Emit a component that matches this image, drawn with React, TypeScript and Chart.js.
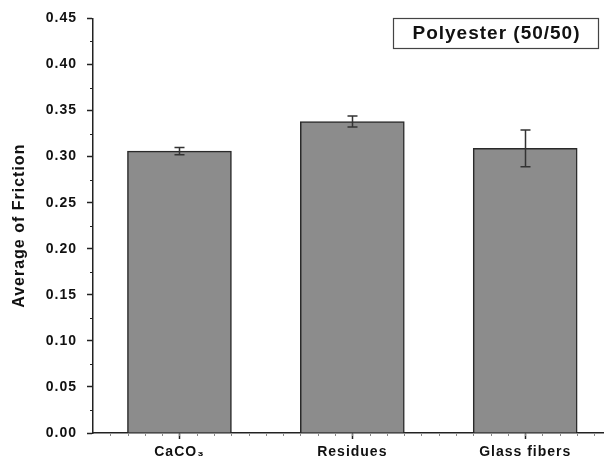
import React, { useEffect, useRef } from "react";
import { Chart, registerables } from "chart.js";

Chart.register(...registerables);

const categories = ["CaCO₃", "Residues", "Glass fibers"];
const positions = [1, 2, 3];
const means = [0.306, 0.338, 0.309];
const errors = [0.004, 0.006, 0.02];
const legendText = "Polyester (50/50)";
const yTitle = "Average of Friction";

const FONT = "'Liberation Sans', Arial, sans-serif";

const spacingPlugin = {
  id: "spacing",
  beforeLayout(chart: any) {
    chart.ctx.letterSpacing = "1px";
  },
  beforeDraw(chart: any) {
    chart.ctx.letterSpacing = "1px";
  },
};

const extrasPlugin = {
  id: "extras",
  afterDatasetsDraw(chart: any) {
    const ctx = chart.ctx;
    const xs = chart.scales.x;
    const ys = chart.scales.y;
    ctx.save();
    // error bars
    ctx.strokeStyle = "#333";
    ctx.lineWidth = 1.5;
    positions.forEach((p, i) => {
      const x = Math.round(xs.getPixelForValue(p)) + 0.5;
      const yt = ys.getPixelForValue(means[i] + errors[i]);
      const yb = ys.getPixelForValue(means[i] - errors[i]);
      ctx.beginPath();
      ctx.moveTo(x, yt);
      ctx.lineTo(x, yb);
      ctx.moveTo(x - 5, yt);
      ctx.lineTo(x + 5, yt);
      ctx.moveTo(x - 5, yb);
      ctx.lineTo(x + 5, yb);
      ctx.stroke();
    });
    // minor ticks on y
    ctx.strokeStyle = "#222";
    ctx.lineWidth = 1;
    const left = chart.chartArea.left;
    for (let v = 0.025; v < 0.45; v += 0.05) {
      const y = Math.round(ys.getPixelForValue(v)) + 0.5;
      ctx.beginPath();
      ctx.moveTo(left, y);
      ctx.lineTo(left - 3, y);
      ctx.stroke();
    }
    // faint minor ticks on x
    ctx.strokeStyle = "#888";
    const bottom = chart.chartArea.bottom;
    for (let v = 0.6; v <= 3.45; v += 0.1) {
      const x = Math.round(xs.getPixelForValue(v)) + 0.5;
      ctx.beginPath();
      ctx.moveTo(x, bottom + 1);
      ctx.lineTo(x, bottom + 3);
      ctx.stroke();
    }
    // legend box
    const bx = 393, by = 18, bw = 205, bh = 30;
    ctx.strokeStyle = "#444";
    ctx.lineWidth = 1.2;
    ctx.strokeRect(bx + 0.5, by + 0.5, bw, bh);
    ctx.fillStyle = "#111";
    ctx.letterSpacing = "1px";
    ctx.font = `bold 19px ${FONT}`;
    ctx.textAlign = "center";
    ctx.textBaseline = "middle";
    ctx.fillText(legendText, bx + bw / 2 + 1, by + bh / 2 + 1);
    ctx.restore();
  },
};

export default function App() {
  const ref = useRef<HTMLCanvasElement | null>(null);
  useEffect(() => {
    if (!ref.current) return;
    const chart = new Chart(ref.current, {
      type: "bar",
      data: {
        datasets: [
          {
            data: positions.map((x, i) => ({ x, y: means[i] })),
            backgroundColor: "#8c8c8c",
            borderColor: "#2a2a2a",
            borderWidth: 1.5,
            barThickness: 104,
          } as any,
        ],
      },
      options: {
        animation: false,
        responsive: false,
        layout: { padding: { top: 14, right: 4, left: 0, bottom: 0 } },
        plugins: { legend: { display: false }, tooltip: { enabled: false } },
        scales: {
          x: {
            type: "linear",
            offset: false,
            min: 0.5,
            max: 3.45,
            afterBuildTicks: (s: any) => {
              s.ticks = positions.map((v) => ({ value: v }));
            },
            afterFit: (s: any) => {
              s.height = 33;
            },
            grid: {
              display: true,
              offset: false,
              drawOnChartArea: false,
              drawTicks: true,
              tickLength: 6,
              tickWidth: 1.5,
              tickColor: "#222",
            },
            border: { display: true, color: "#222", width: 1.5 },
            ticks: {
              callback: (v: any) => {
                const i = positions.indexOf(Number(v));
                return i >= 0 ? categories[i] : "";
              },
              color: "#111",
              font: { family: FONT, size: 14, weight: "bold" },
              padding: 5,
              maxRotation: 0,
              autoSkip: false,
            },
          },
          y: {
            min: 0,
            max: 0.45,
            afterFit: (s: any) => {
              s.width = 93;
            },
            grid: {
              display: true,
              drawOnChartArea: false,
              drawTicks: true,
              tickLength: 6,
              tickWidth: 1.5,
              tickColor: "#222",
            },
            border: { display: true, color: "#222", width: 1.5 },
            ticks: {
              stepSize: 0.05,
              callback: (v: any) => Number(v).toFixed(2),
              color: "#111",
              font: { family: FONT, size: 14, weight: "bold" },
              padding: 10,
            },
            title: {
              display: true,
              text: yTitle,
              color: "#111",
              font: { family: FONT, size: 16, weight: "bold" },
              padding: { top: 10, bottom: 4 },
            },
          },
        },
      },
      plugins: [spacingPlugin, extrasPlugin],
    });
    return () => chart.destroy();
  }, []);
  return (
    <div style={{ position: "fixed", left: 0, top: 0, width: 607, height: 466, background: "#fff" }}>
      <canvas ref={ref} width={607} height={466} style={{ width: 607, height: 466, display: "block" }} />
    </div>
  );
}
